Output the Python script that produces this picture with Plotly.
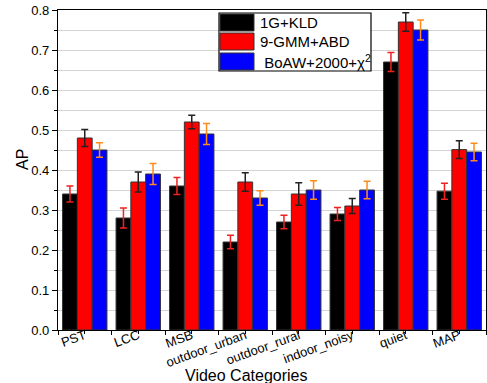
import plotly.graph_objects as go

categories = ["PST", "LCC", "MSB", "outdoor_urban", "outdoor_rural", "indoor_noisy", "quiet", "MAP"]
series_names = ["1G+KLD", "9-GMM+ABD", " BoAW+2000+χ<sup>2</sup>"]
kld = [0.34, 0.28, 0.36, 0.22, 0.27, 0.29, 0.67, 0.347]
kld_err = [0.02, 0.025, 0.021, 0.017, 0.017, 0.016, 0.024, 0.02]
gmm = [0.48, 0.37, 0.52, 0.37, 0.34, 0.31, 0.77, 0.451]
gmm_err = [0.021, 0.025, 0.017, 0.023, 0.028, 0.019, 0.023, 0.022]
boaw = [0.45, 0.39, 0.49, 0.33, 0.35, 0.35, 0.75, 0.445]
boaw_err = [0.018, 0.026, 0.026, 0.018, 0.023, 0.022, 0.025, 0.022]

values = [kld, gmm, boaw]
errors = [kld_err, gmm_err, boaw_err]
bar_colors = ["#000000", "#ff0000", "#0000ff"]
err_colors = ["#ee2222", "#222222", "#ff8c1a"]

FONT = "Arial, Liberation Sans, sans-serif"
xpos = list(range(len(categories)))
boundaries = [i - 0.5 for i in range(len(categories) + 1)]

fig = go.Figure()
for name, v, e, c, ec in zip(series_names, values, errors, bar_colors, err_colors):
    fig.add_trace(go.Bar(
        x=xpos, y=v, name=name,
        marker=dict(color=c, line=dict(color="#333333", width=1)),
        error_y=dict(type="data", array=e, visible=True, color=ec, thickness=1.5, width=3.5),
        showlegend=False,
    ))

# custom legend (large swatches, as in the reference)
W, H = 428, 320
px = lambda x: (x - 58) / W
py = lambda y: (330 - y) / H
shapes = [dict(type="rect", xref="paper", yref="paper", x0=px(219), x1=px(371), y0=py(71), y1=py(13),
               line=dict(color="black", width=1.2), fillcolor="white", layer="above")]
annotations = []
rows = [(14, 31), (33, 50), (53, 70)]
for (t, b), c, name in zip(rows, bar_colors, series_names):
    shapes.append(dict(type="rect", xref="paper", yref="paper",
                       x0=px(220), x1=px(254), y0=py(b), y1=py(t),
                       fillcolor=c, line=dict(color="#333333", width=1), layer="above"))
    annotations.append(dict(xref="paper", yref="paper", x=px(258), y=py((t + b) / 2),
                            text=name, showarrow=False, xanchor="left", yanchor="middle",
                            font=dict(family=FONT, size=15, color="black")))

annotations.append(dict(xref="paper", yref="paper", x=px(246), y=py(375), text="Video Categories",
                        showarrow=False, xanchor="center", yanchor="middle",
                        font=dict(family=FONT, size=16, color="black")))
annotations.append(dict(xref="paper", yref="paper", x=px(22), y=py(160), text="AP", textangle=-90,
                        showarrow=False, xanchor="center", yanchor="middle",
                        font=dict(family=FONT, size=16, color="black")))

fig.update_layout(
    width=487, height=383,
    margin=dict(l=58, r=1, t=10, b=53),
    paper_bgcolor="white", plot_bgcolor="white",
    barmode="group", bargap=0.17, bargroupgap=0,
    font=dict(family=FONT, size=13, color="black"),
    shapes=shapes, annotations=annotations,
    xaxis=dict(
        range=[-0.5, 7.5], automargin=False,
        tickmode="array", tickvals=xpos, ticktext=categories,
        ticks="outside", ticklen=3, tickcolor="black", tickangle=-20,
        ticklabelstandoff=-11,
        minor=dict(tickmode="array", tickvals=boundaries, ticks="outside", ticklen=4,
                   tickcolor="black", showgrid=False),
        showline=True, linecolor="black", linewidth=1.2, mirror=True,
        showgrid=False, zeroline=False, tickfont=dict(size=13),
    ),
    yaxis=dict(
        range=[0, 0.8], dtick=0.1, tickformat=".1f", automargin=False,
        ticks="outside", ticklen=5, tickcolor="black",
        showline=True, linecolor="black", linewidth=1.2, mirror=True,
        showgrid=True, gridcolor="#d4d4d4", gridwidth=1,
        minor=dict(dtick=0.05, showgrid=True, gridcolor="#d4d4d4", ticks="outside", ticklen=3, tickcolor="black"),
        zeroline=False, tickfont=dict(size=13),
    ),
)

fig.write_html("out.html", config={"displayModeBar": False},
               post_script="document.body.style.margin='0';document.body.style.overflow='hidden';")
